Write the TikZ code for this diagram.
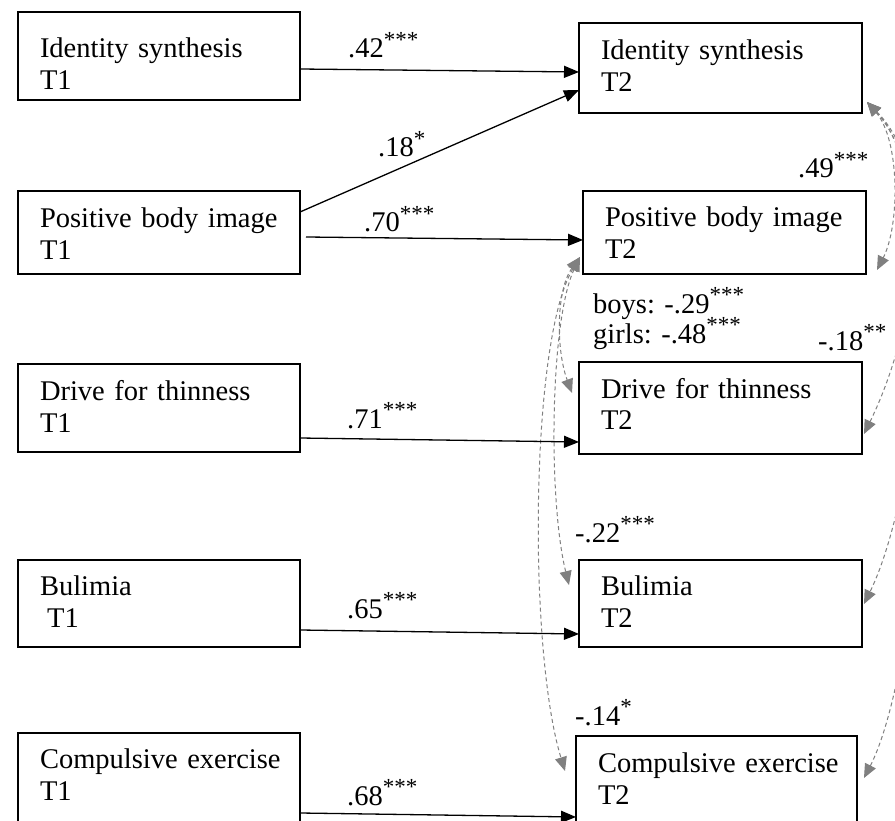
\documentclass[tikz,border=0pt]{standalone}
\usepackage{fontspec}
\setmainfont{Liberation Serif}
\usetikzlibrary{arrows.meta,calc}
\newcommand\diagfont{\fontsize{28.5pt}{32pt}\selectfont}
\newcommand\sig[1]{\raisebox{0.36em}{\fontsize{23pt}{23pt}\selectfont #1}}
\definecolor{corrgray}{RGB}{128,128,128}
\begin{document}
\begin{tikzpicture}[x=1pt,y=-1pt,
  varbox/.style={draw, line width=2.4pt, rectangle, inner xsep=22pt, inner ysep=0pt,
    outer sep=0pt, anchor=base west, align=left, font=\diagfont},
  coef/.style={anchor=base west, inner sep=0pt, font=\diagfont},
  regline/.style={line width=1.3pt, -{Triangle[length=15pt,width=12pt]}},
  corrline/.style={corrgray, line width=1pt, dash pattern=on 4pt off 3pt,
    {Triangle[length=14pt,width=12pt]}-{Triangle[length=14pt,width=12pt]}}
]
\useasboundingbox (0,0) rectangle (895,821);
\fill[white] (0,0) rectangle (895,821);
\clip (0,0) rectangle (895,821);

% T1 variables
\node[varbox, text width=238pt, text height=46pt, text depth=42pt] (l1) at (18,58) {\mbox{Identity synthesis}\\T1};
\node[varbox, text width=238pt, text height=37pt, text depth=46pt] (l2) at (18,228) {\mbox{Positive body image}\\T1};
\node[varbox, text width=238pt, text height=36pt, text depth=52pt] (l3) at (18,400) {\mbox{Drive for thinness}\\T1};
\node[varbox, text width=238pt, text height=35pt, text depth=52pt] (l4) at (18,595) {Bulimia\\\hspace*{0.25em}T1};
\node[varbox, text width=238pt, text height=35pt, text depth=60pt] (l5) at (18,768) {\mbox{Compulsive exercise}\\T1};

% T2 variables
\node[varbox, text width=239pt, text height=37pt, text depth=53pt] (r1) at (579,60) {\mbox{Identity synthesis}\\T2};
\node[varbox, text width=239pt, text height=36pt, text depth=47pt] (r2) at (583,227) {\mbox{Positive body image}\\T2};
\node[varbox, text width=239pt, text height=36pt, text depth=56pt] (r3) at (579,398) {\mbox{Drive for thinness}\\T2};
\node[varbox, text width=239pt, text height=35pt, text depth=52pt] (r4) at (579,595) {Bulimia\\T2};
\node[varbox, text width=237pt, text height=36pt, text depth=60pt] (r5) at (576,772) {\mbox{Compulsive exercise}\\T2};

% residual correlations at T2
\draw[corrline] ($(r1.south east)+(5,-11)$) .. controls (900,140) and (900,225) .. ($(r2.south east)+(11,-4)$);
\draw[corrline] ($(r1.south east)+(5,-11)$) .. controls (940,175) and (915,330) .. ($(r3.north east)+(2,72)$);
\draw[corrline] ($(r1.south east)+(5,-11)$) .. controls (950,190) and (920,490) .. ($(r4.north east)+(2,44)$);
\draw[corrline] ($(r1.south east)+(5,-11)$) .. controls (960,200) and (925,660) .. ($(r5.north east)+(7,42)$);
\draw[corrline] ($(r2.south west)+(-3,-17)$) .. controls (556,290) and (556,350) .. ($(r3.north west)+(-7,31)$);
\draw[corrline] ($(r2.south west)+(-3,-17)$) .. controls (550,320) and (548,500) .. ($(r4.north west)+(-10,25)$);
\draw[corrline] ($(r2.south west)+(-3,-17)$) .. controls (530,340) and (528,650) .. ($(r5.north west)+(-11,35)$);

% stability and cross-lagged paths
\draw[regline] ($(l1.north east)+(0,57)$) -- ($(r1.north west)+(0,49)$);
\draw[regline] ($(l2.north east)+(0,21)$) -- ($(r1.north west)+(0,67)$);
\draw[regline] ($(l2.north east)+(6,46)$) -- ($(r2.north west)+(0,49)$);
\draw[regline] ($(l3.north east)+(0,74)$) -- ($(r3.north west)+(0,80)$);
\draw[regline] ($(l4.north east)+(0,70)$) -- ($(r4.north west)+(0,74)$);
\draw[regline] ($(l5.north east)+(0,80)$) -- ($(r5.north west)+(0,81)$);

% coefficients
\node[coef] (c42) at (348,58) {.42\sig{***}};
\node[coef] (c18) at (378,157) {.18\sig{*}};
\node[coef] (c70) at (364,232) {.70\sig{***}};
\node[coef] (c71) at (347,428) {.71\sig{***}};
\node[coef] (c65) at (347,618) {.65\sig{***}};
\node[coef] (c68) at (347,805) {.68\sig{***}};
\node[coef] (c49) at (798,178) {.49\sig{***}};
\node[coef] (cboys) at (593,313) {boys: -.29\sig{***}};
\node[coef] (cgirls) at (593,343) {girls: -.48\sig{***}};
\node[coef] (c18n) at (818,350) {-.18\sig{**}};
\node[coef] (c22) at (575,542) {-.22\sig{***}};
\node[coef] (c14) at (575,725) {-.14\sig{*}};
\end{tikzpicture}
\end{document}
